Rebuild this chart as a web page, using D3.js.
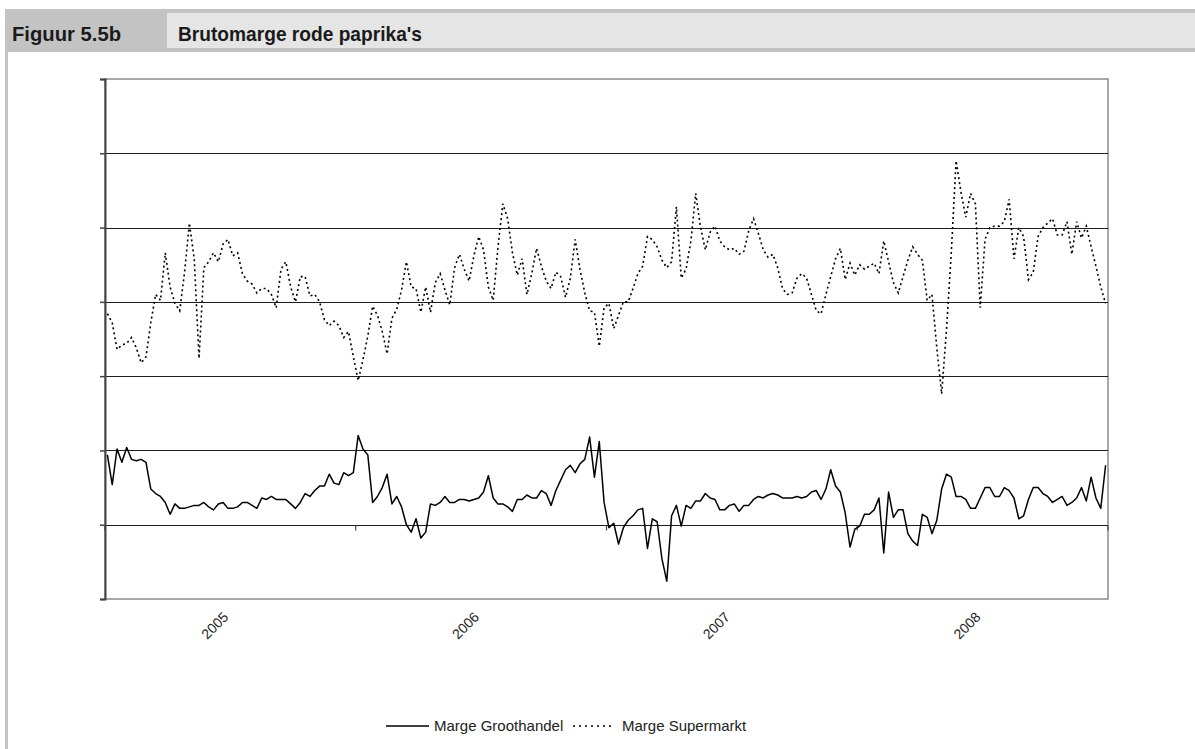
<!DOCTYPE html>
<html>
<head>
<meta charset="utf-8">
<script src="https://cdn.jsdelivr.net/npm/d3@7"></script>
<style>
  body { margin: 0; background: #fff; }
  svg { display: block; }
</style>
</head>
<body>
<svg id="chart" width="1195" height="749"></svg>
<script>
// Weekly gross margin, red bell peppers (euro per kg), 52 weeks per year
const years = ["2005", "2006", "2007", "2008"];
const weeksPerYear = 52;
const seriesNames = ["Marge Groothandel", "Marge Supermarkt"];
const yTicks = [-0.5, 0, 0.5, 1.0, 1.5, 2.0, 2.5, 3.0];

const margeGroothandel = [
  // 2005
  0.47, 0.27, 0.51, 0.42, 0.52, 0.44, 0.43, 0.44, 0.42, 0.24,
  0.21, 0.19, 0.15, 0.07, 0.14, 0.11, 0.11, 0.12, 0.13, 0.13,
  0.15, 0.12, 0.10, 0.14, 0.15, 0.11, 0.11, 0.12, 0.15, 0.15,
  0.13, 0.11, 0.18, 0.17, 0.19, 0.17, 0.17, 0.17, 0.14, 0.11,
  0.15, 0.21, 0.19, 0.23, 0.26, 0.26, 0.34, 0.28, 0.27, 0.35,
  0.33, 0.35,
  // 2006
  0.60, 0.51, 0.47, 0.15, 0.19, 0.25, 0.34, 0.14, 0.19, 0.12,
  0.00, -0.05, 0.04, -0.09, -0.05, 0.14, 0.13, 0.15, 0.19, 0.15,
  0.15, 0.17, 0.17, 0.16, 0.17, 0.18, 0.22, 0.33, 0.18, 0.14,
  0.14, 0.12, 0.09, 0.17, 0.17, 0.20, 0.18, 0.18, 0.23, 0.21,
  0.13, 0.23, 0.30, 0.37, 0.40, 0.35, 0.41, 0.44, 0.59, 0.32,
  0.56, 0.15,
  // 2007
  -0.02, 0.01, -0.13, -0.02, 0.03, 0.06, 0.10, 0.11, -0.16, 0.04,
  0.02, -0.23, -0.38, 0.06, 0.13, -0.01, 0.13, 0.11, 0.16, 0.16,
  0.21, 0.18, 0.17, 0.10, 0.10, 0.13, 0.14, 0.09, 0.13, 0.13,
  0.17, 0.19, 0.18, 0.20, 0.21, 0.20, 0.18, 0.18, 0.18, 0.19,
  0.18, 0.19, 0.22, 0.23, 0.17, 0.24, 0.37, 0.26, 0.22, 0.08,
  -0.15, -0.03,
  // 2008
  -0.01, 0.07, 0.07, 0.10, 0.18, -0.19, 0.22, 0.05, 0.10, 0.10,
  -0.06, -0.11, -0.14, 0.07, 0.05, -0.06, 0.03, 0.24, 0.34, 0.32,
  0.19, 0.19, 0.17, 0.11, 0.11, 0.18, 0.25, 0.25, 0.19, 0.19,
  0.25, 0.23, 0.18, 0.04, 0.06, 0.17, 0.25, 0.25, 0.21, 0.19,
  0.15, 0.17, 0.19, 0.13, 0.15, 0.18, 0.25, 0.16, 0.32, 0.18,
  0.11, 0.40
];

const margeSupermarkt = [
  // 2005
  1.42, 1.36, 1.18, 1.21, 1.22, 1.26, 1.19, 1.09, 1.13, 1.36,
  1.55, 1.51, 1.83, 1.60, 1.49, 1.44, 1.70, 2.03, 1.79, 1.12,
  1.73, 1.77, 1.83, 1.77, 1.89, 1.92, 1.81, 1.83, 1.69, 1.64,
  1.62, 1.56, 1.59, 1.59, 1.55, 1.46, 1.72, 1.77, 1.60, 1.50,
  1.67, 1.67, 1.54, 1.55, 1.50, 1.38, 1.34, 1.37, 1.34, 1.26,
  1.30, 1.13,
  // 2006
  0.97, 1.11, 1.27, 1.47, 1.41, 1.30, 1.15, 1.39, 1.45, 1.58,
  1.77, 1.60, 1.59, 1.43, 1.60, 1.43, 1.63, 1.69, 1.58, 1.48,
  1.73, 1.82, 1.72, 1.64, 1.81, 1.94, 1.85, 1.60, 1.51, 1.87,
  2.16, 2.06, 1.83, 1.68, 1.79, 1.55, 1.69, 1.86, 1.74, 1.64,
  1.59, 1.70, 1.67, 1.53, 1.66, 1.92, 1.72, 1.56, 1.44, 1.43,
  1.20, 1.46,
  // 2007
  1.49, 1.32, 1.41, 1.50, 1.50, 1.59, 1.69, 1.74, 1.94, 1.92,
  1.87, 1.78, 1.73, 1.77, 2.14, 1.66, 1.72, 1.91, 2.23, 2.00,
  1.85, 1.97, 2.01, 1.91, 1.87, 1.85, 1.86, 1.82, 1.84, 1.98,
  2.06, 1.96, 1.85, 1.80, 1.82, 1.73, 1.59, 1.55, 1.56, 1.66,
  1.69, 1.66, 1.55, 1.44, 1.42, 1.55, 1.67, 1.79, 1.86, 1.65,
  1.76, 1.68,
  // 2008
  1.75, 1.72, 1.74, 1.76, 1.69, 1.91, 1.77, 1.63, 1.56, 1.67,
  1.78, 1.87, 1.82, 1.78, 1.51, 1.55, 1.19, 0.88, 1.31, 1.83,
  2.45, 2.24, 2.07, 2.23, 2.16, 1.46, 1.92, 2.00, 2.01, 2.01,
  2.04, 2.19, 1.79, 2.00, 1.94, 1.65, 1.70, 1.94, 2.00, 2.03,
  2.06, 1.95, 1.95, 2.04, 1.82, 2.04, 1.93, 2.01, 1.87, 1.74,
  1.60, 1.49
];

// Week categories: "2005-1" ... "2008-52"
const weeks = years.flatMap(yr => d3.range(1, weeksPerYear + 1).map(w => `${yr}-${w}`));

const svg = d3.select("#chart");
const W = 1195, H = 749;
const plot = { left: 105, right: 1108, top: 79, bottom: 599 };

// ---- Title banner ----
svg.append("rect").attr("x", 5).attr("y", 9).attr("width", W - 5).attr("height", 43).attr("fill", "#c3c3c3");
svg.append("rect").attr("x", 167).attr("y", 13).attr("width", W - 167).attr("height", 35).attr("fill", "#e5e5e5");
svg.append("rect").attr("x", 5).attr("y", 52).attr("width", 3).attr("height", H - 52).attr("fill", "#c3c3c3");

const headFont = "'Liberation Sans Narrow', 'Liberation Sans', Arial, sans-serif";
svg.append("text")
  .attr("x", 12).attr("y", 41)
  .attr("font-family", headFont).attr("font-weight", "bold").attr("font-size", 21)
  .attr("fill", "#1a1a1a")
  .attr("textLength", 109).attr("lengthAdjust", "spacingAndGlyphs")
  .text("Figuur 5.5b");
svg.append("text")
  .attr("x", 178).attr("y", 41)
  .attr("font-family", headFont).attr("font-weight", "bold").attr("font-size", 21)
  .attr("fill", "#1a1a1a")
  .attr("textLength", 244).attr("lengthAdjust", "spacingAndGlyphs")
  .text("Brutomarge rode paprika's");

// ---- Scales ----
const x = d3.scaleBand().domain(weeks).range([plot.left, plot.right]).paddingInner(0).paddingOuter(0);
const bw = x.bandwidth();
const xc = d => x(d) + bw / 2;
const y = d3.scaleLinear().domain([yTicks[0], yTicks[yTicks.length - 1]]).range([plot.bottom, plot.top]);
const yearBand = d3.scaleBand().domain(years).range([plot.left, plot.right]);

// ---- Plot frame and gridlines ----
const g = svg.append("g");
g.append("rect")
  .attr("x", plot.left).attr("y", plot.top)
  .attr("width", plot.right - plot.left).attr("height", plot.bottom - plot.top)
  .attr("fill", "#fff").attr("stroke", "#8c8c8c").attr("stroke-width", 1.5);

g.selectAll("line.grid")
  .data(yTicks.slice(1, -1))
  .join("line")
  .attr("class", "grid")
  .attr("x1", plot.left).attr("x2", plot.right)
  .attr("y1", d => Math.round(y(d)) + 0.5).attr("y2", d => Math.round(y(d)) + 0.5)
  .attr("stroke", "#1e1e1e").attr("stroke-width", 1);

// Value axis on the left: tick marks only
const yAxis = d3.axisLeft(y).tickValues(yTicks).tickSize(5).tickFormat("");
const yg = svg.append("g").attr("transform", `translate(${plot.left},0)`).call(yAxis);
yg.select(".domain").attr("stroke", "#444").attr("stroke-width", 2);
yg.selectAll(".tick line").attr("stroke", "#444").attr("stroke-width", 1.5);

// Category axis crossing at zero: year boundary ticks
const yearStarts = years.map(yr => `${yr}-1`);
const zeroY = Math.round(y(0)) + 0.5;
svg.append("g").selectAll("line")
  .data(yearStarts.concat([null]))
  .join("line")
  .attr("x1", d => d === null ? plot.right : x(d))
  .attr("x2", d => d === null ? plot.right : x(d))
  .attr("y1", zeroY).attr("y2", zeroY + 5)
  .attr("stroke", "#444").attr("stroke-width", 1.2);

// Year labels below the plot, rotated
const labelFont = "'Liberation Sans', Arial, sans-serif";
const xAxis = d3.axisBottom(yearBand).tickSize(0).tickPadding(0);
const xg = svg.append("g").attr("transform", `translate(0,${plot.bottom})`).call(xAxis);
xg.select(".domain").remove();
xg.selectAll(".tick text")
  .attr("font-family", labelFont).attr("font-size", 14).attr("fill", "#222")
  .attr("text-anchor", "end")
  .attr("dy", 0)
  .attr("transform", "translate(-1,19) rotate(-45)");

// ---- Series lines ----
const line = d3.line().x((d, i) => xc(weeks[i])).y(d => y(d));

svg.append("path")
  .datum(margeSupermarkt)
  .attr("d", line)
  .attr("fill", "none").attr("stroke", "#000")
  .attr("stroke-width", 1.6).attr("stroke-dasharray", "2,3");

svg.append("path")
  .datum(margeGroothandel)
  .attr("d", line)
  .attr("fill", "none").attr("stroke", "#000")
  .attr("stroke-width", 1.5).attr("stroke-linejoin", "round");

// ---- Legend ----
const lg = svg.append("g").attr("font-family", labelFont).attr("font-size", 15).attr("fill", "#222");
lg.append("line").attr("x1", 386).attr("x2", 429).attr("y1", 726).attr("y2", 726)
  .attr("stroke", "#000").attr("stroke-width", 1.5);
lg.append("text").attr("x", 434).attr("y", 731).text(seriesNames[0]);
lg.append("line").attr("x1", 573).attr("x2", 613).attr("y1", 726).attr("y2", 726)
  .attr("stroke", "#000").attr("stroke-width", 1.6).attr("stroke-dasharray", "2,4");
lg.append("text").attr("x", 622).attr("y", 731).text(seriesNames[1]);
</script>
</body>
</html>
